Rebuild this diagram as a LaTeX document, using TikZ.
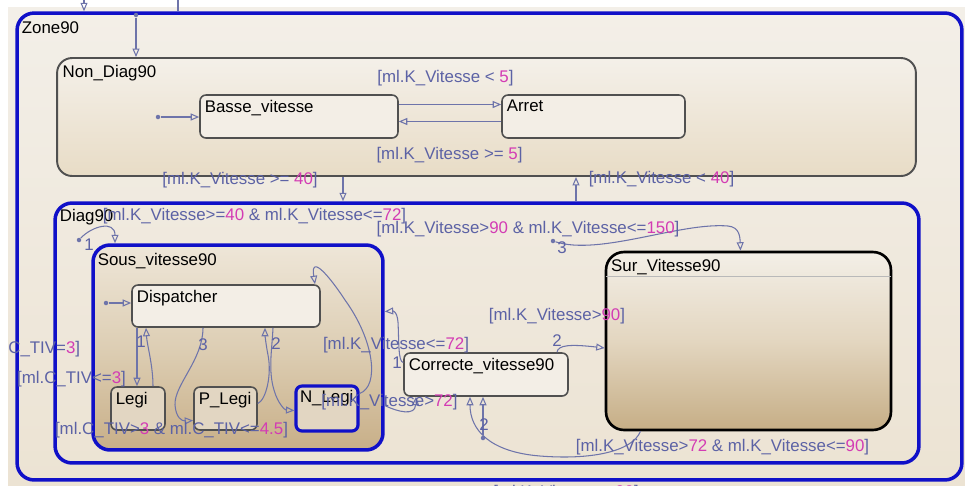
\documentclass[tikz,border=0pt]{standalone}
\usepackage{fontspec}
\setmainfont{Liberation Sans}
\usetikzlibrary{arrows.meta, positioning}

\definecolor{bgtop}{HTML}{F3EFE8}
\definecolor{bgbot}{HTML}{ECE3D3}
\definecolor{chblue}{HTML}{1010C8}
\definecolor{ndgray}{HTML}{505050}
\definecolor{ndtop}{HTML}{F4F0E9}
\definecolor{ndbot}{HTML}{E8DCC6}
\definecolor{stfill}{HTML}{F3EEE6}
\definecolor{lofill}{HTML}{E2D6C2}
\definecolor{soustop}{HTML}{EEE6D8}
\definecolor{sousmid}{HTML}{DDCEB4}
\definecolor{sousbot}{HTML}{C8AF88}
\definecolor{surtop}{HTML}{F3EFE7}
\definecolor{surmid}{HTML}{E3D6C0}
\definecolor{surbot}{HTML}{C6AE86}
\definecolor{trline}{HTML}{6E74AA}
\definecolor{trtext}{HTML}{5C62A5}
\definecolor{trnum}{HTML}{D33CB4}

\newcommand{\cnum}[1]{\textcolor{trnum}{#1}}

\begin{document}
\begin{tikzpicture}[
    x=0.02cm, y=-0.02cm,
    font=\fontsize{9.6}{11}\selectfont,
    chart/.style={draw=chblue, line width=2pt, rounded corners=0.34cm, inner sep=0pt},
    group/.style={draw=ndgray, line width=1.1pt, rounded corners=0.3cm, inner sep=0pt},
    state/.style={draw=ndgray, line width=0.9pt, rounded corners=0.12cm, fill=stfill,
                  inner sep=0pt, minimum height=0.86cm},
    title/.style={anchor=north west, inner xsep=3pt, inner ysep=3pt},
    bigtitle/.style={title, inner xsep=3.5pt, inner ysep=4.5pt},
    tr/.style={draw=trline, line width=0.6pt, -{Triangle[open, length=1.7mm, width=1.4mm]}},
    dot/.style={circle, fill=trline, inner sep=0pt, minimum size=0.09cm},
    guard/.style={text=trtext, inner sep=0pt}
  ]

  \useasboundingbox (0,0) rectangle (965,485);
  \shade[top color=bgtop, bottom color=bgbot] (8,7) rectangle (965,485);

  % --- Zone90 and Non_Diag90 ---
  \node[chart, minimum width=18.9cm, minimum height=9.34cm,
        label={[bigtitle, inner ysep=6pt]north west:Zone90}] (zone) at (489.5,246.5) {};
  \node[group, top color=ndtop, bottom color=ndbot, minimum width=17.18cm, minimum height=2.36cm,
        label={[bigtitle]north west:Non\_Diag90}] (nondiag) at (486.5,117) {};
  \node[state, minimum width=3.96cm, label={[title]north west:Basse\_vitesse}] (basse) at (299,116.5) {};
  \node[state, minimum width=3.66cm, label={[title]north west:Arret}] (arret) at (593.5,116.5) {};

  % --- Diag90 ---
  \node[chart, minimum width=17.28cm, minimum height=5.2cm,
        label={[bigtitle]north west:Diag90}] (diag) at (487,333) {};
  \node[chart, top color=soustop, bottom color=sousbot, middle color=sousmid,
        minimum width=5.8cm, minimum height=4.1cm,
        label={[bigtitle, inner ysep=5.5pt]north west:Sous\_vitesse90}] (sous) at (238,347.5) {};
  \node[state, minimum width=3.76cm, minimum height=0.84cm,
        label={[title]north west:Dispatcher}] (disp) at (226,306) {};
  \node[state, fill=lofill, minimum width=1.08cm, label={[title]north west:Legi}] (legi) at (138,408.5) {};
  \node[state, fill=lofill, minimum width=1.26cm, label={[title]north west:P\_Legi}] (plegi) at (225.5,408.5) {};
  \node[state, fill=lofill, draw=chblue, line width=1.8pt, minimum width=1.24cm, minimum height=0.9cm,
        label={[title]north west:N\_Legi}] (nlegi) at (327,408.5) {};
  \node[state, minimum width=3.28cm, label={[title]north west:Correcte\_vitesse90}] (corr) at (486,374.5) {};
  \node[draw=black, line width=1.5pt, rounded corners=0.36cm, inner sep=0pt,
        top color=surtop, bottom color=surbot, middle color=surmid,
        minimum width=5.7cm, minimum height=3.56cm,
        label={[bigtitle]north west:Sur\_Vitesse90}] (sur) at (748.5,341) {};
  \draw[gray!55, line width=0.8pt] ([shift={(1,26)}]sur.north west) -- ([shift={(-1,26)}]sur.north east);

  % --- transitions, top level ---
  \coordinate (up1) at (84,0);
  \coordinate (up2) at (178,0);
  \draw[tr] (up1) -- (up1 |- zone.north);
  \draw[draw=trline, line width=0.6pt] (up2) -- (up2 |- zone.north);
  \node[dot] (ini0) at (136,15) {};
  \draw[tr] (ini0) -- (ini0 |- nondiag.north);
  \node[dot] (ini1) at (158,117) {};
  \draw[tr] (ini1) -- (ini1 -| basse.west);
  \draw[tr] ([shift={(0,-12)}]basse.east) -- ([shift={(0,-12)}]arret.west);
  \draw[tr] ([shift={(0,5)}]arret.west) -- ([shift={(0,5)}]basse.east);
  \draw[tr] ([shift={(-143.5,0)}]nondiag.south) -- ([shift={(-143.5,0)}]nondiag.south |- diag.north);
  \draw[tr] ([shift={(89,0)}]diag.north) -- ([shift={(89,0)}]diag.north |- nondiag.south);

  % --- transitions in Diag90 ---
  \node[dot] (ini2) at (79,240) {};
  \draw[tr] (ini2) .. controls (92,226) and (115,220) .. ([shift={(-123,0)}]sous.north);
  \node[dot] (ini5) at (106,303) {};
  \draw[tr] (ini5) -- (ini5 -| disp.west);
  \draw[tr] ([shift={(-89,0)}]disp.south) -- ([shift={(-89,0)}]disp.south |- legi.north);
  \draw[tr] ([shift={(15,0)}]legi.north) .. controls (153,365) and (147,345) .. ([shift={(-80,0)}]disp.south);
  \draw[tr] ([shift={(-23,0)}]disp.south) .. controls (203,360) and (174,385) .. (175,405)
            .. controls (176,418) and (182,421) .. ([shift={(0,12)}]plegi.west);
  \draw[tr] ([shift={(47,0)}]disp.south) .. controls (272,350) and (268,370) .. (274,390)
            .. controls (278,404) and (285,410) .. ([shift={(0,2)}]nlegi.west);
  \draw[tr] ([shift={(0,-5)}]plegi.east) .. controls (266,400) and (272,375) .. (268,355)
            .. controls (266,345) and (265,335) .. ([shift={(39,0)}]disp.south);
  \draw[tr] ([shift={(0,-15)}]nlegi.east) .. controls (380,386) and (374,340) .. (345,300)
            .. controls (332,280) and (310,252) .. ([shift={(89,0)}]disp.north);
  \draw[tr] ([shift={(0,58)}]sous.east) .. controls (398,412) and (415,416) .. ([shift={(-70,0)}]corr.south);
  \draw[tr] ([shift={(0,-12)}]corr.west) .. controls (398,362) and (399,340) .. (398,322)
            .. controls (397,310) and (392,311) .. ([shift={(0,-36)}]sous.east);
  \node[dot] (ini3) at (553,241) {};
  \draw[tr] (ini3) .. controls (600,256) and (680,222) .. (728,226)
            .. controls (740,227) and (740,238) .. ([shift={(-8,0)}]sur.north);
  \draw[tr] ([shift={(71,0)}]corr.north) .. controls (558,345) and (570,344) .. ([shift={(0,7)}]sur.west);
  \node[dot] (ini4) at (483,438) {};
  \draw[tr] (ini4) -- (ini4 |- corr.south);
  \draw[tr] ([shift={(-108,0)}]sur.south) .. controls (632,452) and (590,460) .. (540,456)
            .. controls (490,452) and (470,430) .. ([shift={(-16,0)}]corr.south);

  % --- guards and priorities ---
  \node[guard] (glt5) at (445.5,78) {[ml.K\_Vitesse < \cnum{5}]};
  \node[guard] (gge5) at (449.5,155) {[ml.K\_Vitesse >= \cnum{5}]};
  \node[guard] (gge40) at (240,180) {[ml.K\_Vitesse >= \cnum{40}]};
  \node[guard] (glt40) at (661.5,179) {[ml.K\_Vitesse < \cnum{40}]};
  \node[guard] (gsous) at (254.5,216) {[ml.K\_Vitesse>=\cnum{40} \& ml.K\_Vitesse<=\cnum{72}]};
  \node[guard] (gsur) at (528,229) {[ml.K\_Vitesse>\cnum{90} \& ml.K\_Vitesse<=\cnum{150}]};
  \node[guard] (ggt90) at (557,316) {[ml.K\_Vitesse>\cnum{90}]};
  \node[guard] (gle72) at (396,345) {[ml.K\_Vitesse<=\cnum{72}]};
  \node[guard] (ggt72) at (389.5,402) {[ml.K\_Vitesse>\cnum{72}]};
  \node[guard] (gcorr) at (722.5,447) {[ml.K\_Vitesse>\cnum{72} \& ml.K\_Vitesse<=\cnum{90}]};
  \node[guard, anchor=west] (gtiv) at (8,349) {C\_TIV=\cnum{3}]};
  \node[guard] (gle3) at (71.5,379) {[ml.C\_TIV<=\cnum{3}]};
  \node[guard] (gplegi) at (171.5,430) {[ml.C\_TIV>\cnum{3} \& ml.C\_TIV<=\cnum{4.5}]};
  \node[guard] (gout) at (566,493) {[ml.K\_Vitesse < \cnum{90}]};
  \node[guard] (p1a) at (89,245) {1};
  \node[guard] (p1b) at (141,342) {1};
  \node[guard] (p3a) at (203,345) {3};
  \node[guard] (p2a) at (276,344) {2};
  \node[guard] (p1c) at (397,363) {1};
  \node[guard] (p3b) at (562,248) {3};
  \node[guard] (p2b) at (557,341) {2};
  \node[guard] (p2c) at (484,425) {2};

\end{tikzpicture}
\end{document}
